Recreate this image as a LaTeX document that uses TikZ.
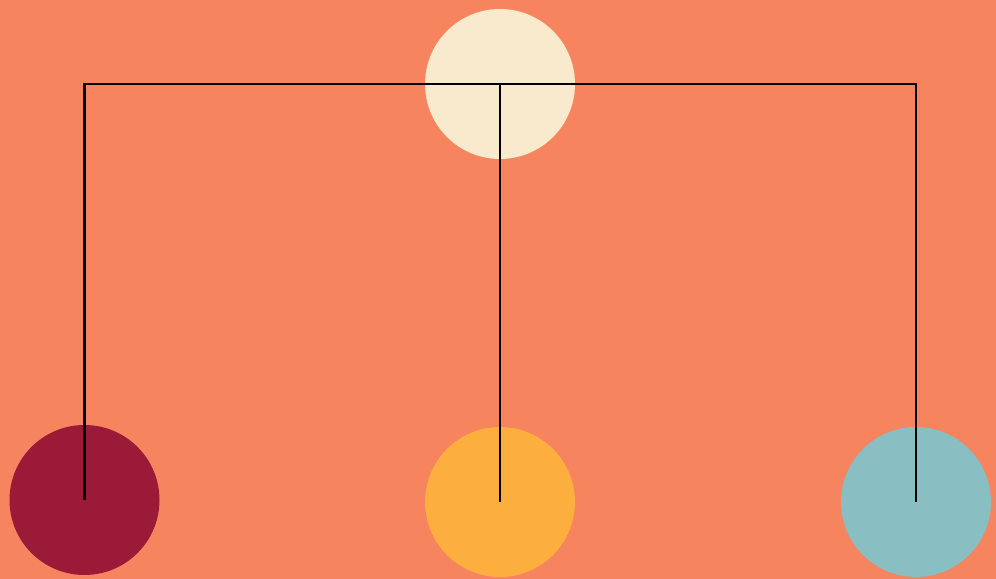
\documentclass[tikz,border=0pt]{standalone}
\usepackage{tikz}
\usepackage{xcolor}
\usetikzlibrary{positioning}
\definecolor{bgCoral}{RGB}{245,132,95}
\definecolor{dotCream}{RGB}{249,233,205}
\definecolor{dotWine}{RGB}{154,26,56}
\definecolor{dotAmber}{RGB}{252,175,63}
\definecolor{dotTeal}{RGB}{137,190,195}
\tikzset{
  dot/.style={circle,minimum size=3.0cm,inner sep=0pt,draw=none},
  link/.style={draw=black,line width=1.4pt}
}
\begin{document}
\begin{tikzpicture}
  \fill[bgCoral] (0,0) rectangle (19.92,11.58);
  \useasboundingbox (0,0) rectangle (19.92,11.58);
  \node[dot,fill=dotCream] (top) at (10.00,9.90) {};
  \node[dot,fill=dotWine] (left) at (1.69,1.58) {};
  \node[dot,fill=dotAmber] (mid) at (10.00,1.54) {};
  \node[dot,fill=dotTeal] (right) at (18.32,1.54) {};
  \draw[link] (left.center) |- (top.center) -| (right.center);
  \draw[link] (top.center) -- (mid.center);
\end{tikzpicture}
\end{document}
